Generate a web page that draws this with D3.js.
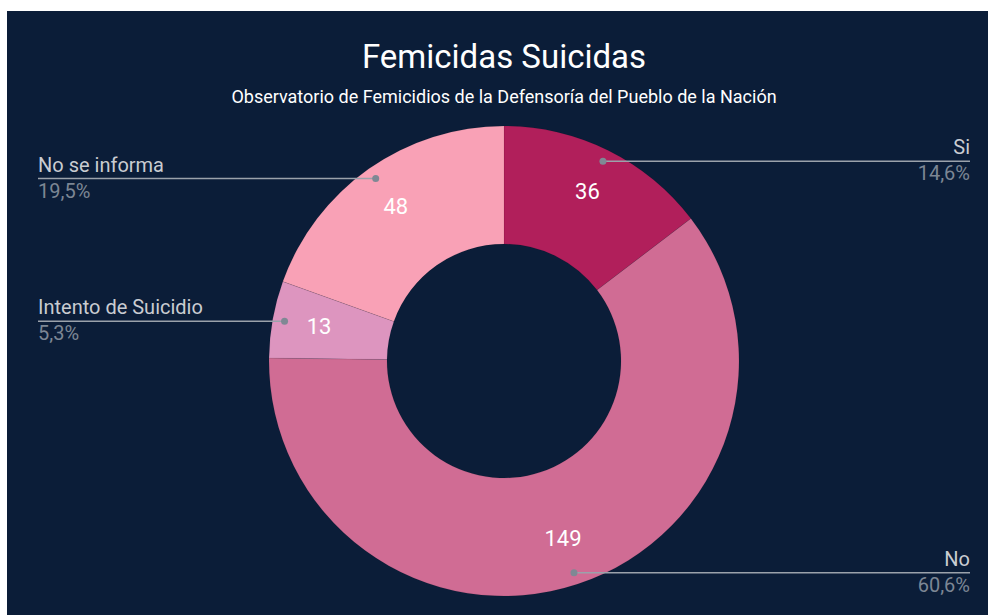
<!DOCTYPE html>
<meta charset="utf-8">
<style>

body {
  margin: 0;
  background: #fff;
}

text {
  font-family: Roboto, "Noto Sans", sans-serif;
}

</style>
<svg width="988" height="615"></svg>
<script src="https://cdn.jsdelivr.net/npm/d3@7"></script>
<script>

var categories = ["Si", "No", "Intento de Suicidio", "No se informa"],
    values = [36, 149, 13, 48],
    percentLabels = ["14,6%", "60,6%", "5,3%", "19,5%"],
    colors = ["#b11f5b", "#d06c94", "#dd95bf", "#f9a1b6"];

var svg = d3.select("svg"),
    width = 988,
    height = 615,
    cx = 504,
    cy = 361,
    outer = 235,
    inner = 117;

svg.append("rect")
    .attr("x", 7)
    .attr("y", 11)
    .attr("width", width - 7)
    .attr("height", height - 11)
    .attr("fill", "#0b1d38");

svg.append("text")
    .attr("x", cx)
    .attr("y", 68)
    .attr("text-anchor", "middle")
    .attr("fill", "#fff")
    .style("font-size", "33px")
    .text("Femicidas Suicidas");

svg.append("text")
    .attr("x", cx)
    .attr("y", 103)
    .attr("text-anchor", "middle")
    .attr("fill", "#fff")
    .style("font-size", "18px")
    .text("Observatorio de Femicidios de la Defensoría del Pueblo de la Nación");

var data = categories.map(function(c, i) {
  return {name: c, value: values[i], pct: percentLabels[i], color: colors[i]};
});

var pie = d3.pie()
    .sort(null)
    .value(function(d) { return d.value; });

var arc = d3.arc()
    .innerRadius(inner)
    .outerRadius(outer);

var labelArc = d3.arc()
    .innerRadius(188)
    .outerRadius(188);

var dotArc = d3.arc()
    .innerRadius(223)
    .outerRadius(223);

var g = svg.append("g")
    .attr("transform", "translate(" + cx + "," + cy + ")");

var arcs = pie(data);

g.selectAll("path")
    .data(arcs)
  .enter().append("path")
    .attr("d", arc)
    .attr("fill", function(d) { return d.data.color; })
    .attr("stroke", "rgba(0,0,0,0.12)")
    .attr("stroke-width", 0.6);

g.selectAll("text.value")
    .data(arcs)
  .enter().append("text")
    .attr("class", "value")
    .attr("transform", function(d) { return "translate(" + labelArc.centroid(d) + ")"; })
    .attr("dy", "0.3em")
    .attr("text-anchor", "middle")
    .attr("fill", "#fff")
    .style("font-size", "22px")
    .text(function(d) { return d.data.value; });

// leader lines to the sides
var callouts = g.selectAll("g.callout")
    .data(arcs)
  .enter().append("g")
    .attr("class", "callout");

callouts.each(function(d) {
  var p = dotArc.centroid(d),
      right = p[0] > 0,
      xEnd = right ? 970 - cx : 38 - cx,
      sel = d3.select(this);

  sel.append("line")
      .attr("x1", p[0])
      .attr("y1", p[1])
      .attr("x2", xEnd)
      .attr("y2", p[1])
      .attr("stroke", "#9ba2ab")
      .attr("stroke-width", 1.5);

  sel.append("circle")
      .attr("cx", p[0])
      .attr("cy", p[1])
      .attr("r", 3.5)
      .attr("fill", "#7f8894");

  sel.append("text")
      .attr("x", xEnd)
      .attr("y", p[1] - 7)
      .attr("text-anchor", right ? "end" : "start")
      .attr("fill", "#c9ccd1")
      .style("font-size", "20px")
      .text(d.data.name);

  sel.append("text")
      .attr("x", xEnd)
      .attr("y", p[1] + 19)
      .attr("text-anchor", right ? "end" : "start")
      .attr("fill", "#7c8694")
      .style("font-size", "20px")
      .text(d.data.pct);
});

</script>
